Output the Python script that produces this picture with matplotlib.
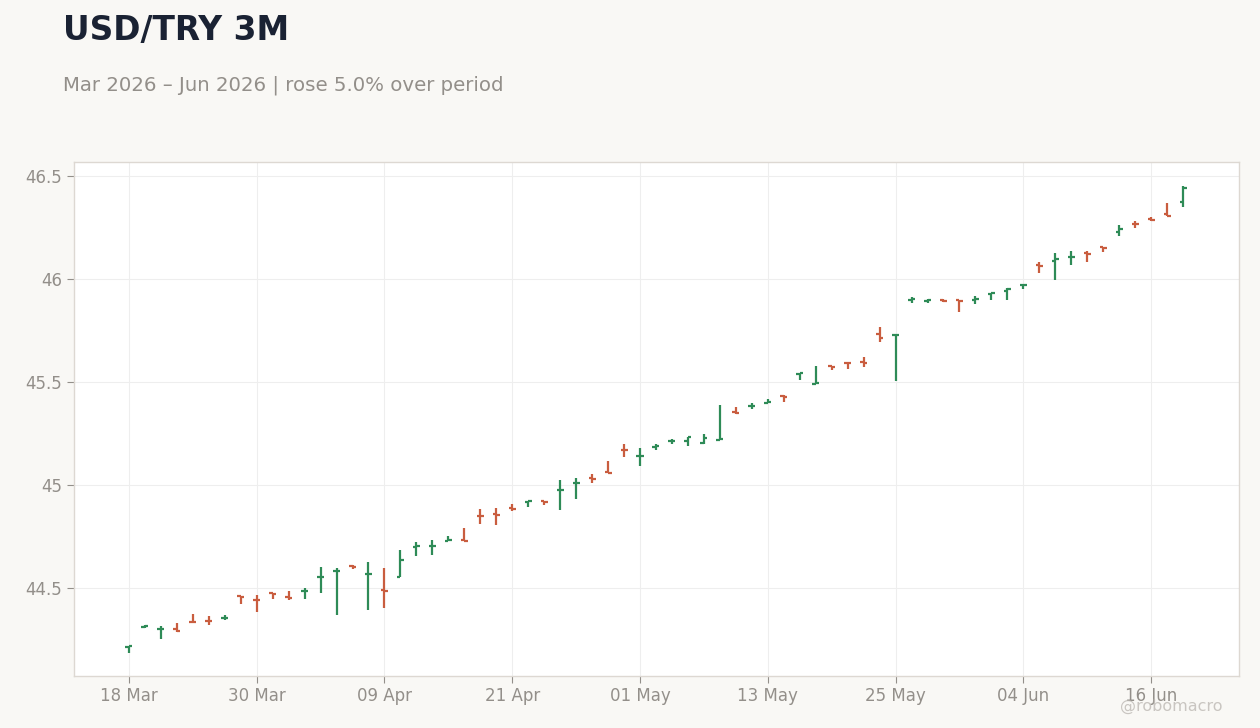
import matplotlib.pyplot as plt
import pandas as pd

# USD/TRY daily OHLC, business days from 18 Mar 2026
dates = pd.bdate_range('2026-03-18', periods=67)
opens = [44.213, 44.309, 44.300, 44.302, 44.337, 44.342, 44.355, 44.459, 44.443, 44.475,
         44.455, 44.486, 44.554, 44.583, 44.606, 44.568, 44.489, 44.552, 44.700, 44.703,
         44.729, 44.731, 44.851, 44.857, 44.890, 44.920, 44.922, 44.976, 45.010, 45.032,
         45.061, 45.172, 45.141, 45.187, 45.214, 45.215, 45.204, 45.218, 45.356, 45.382,
         45.399, 45.432, 45.538, 45.490, 45.577, 45.593, 45.595, 45.733, 45.727, 45.899,
         45.894, 45.896, 45.896, 45.899, 45.928, 45.942, 45.971, 46.069, 46.089, 46.107,
         46.124, 46.153, 46.230, 46.268, 46.289, 46.314, 46.375]
highs = [44.218, 44.319, 44.315, 44.330, 44.374, 44.364, 44.367, 44.461, 44.466, 44.476,
         44.485, 44.500, 44.603, 44.595, 44.612, 44.626, 44.597, 44.684, 44.723, 44.733,
         44.752, 44.791, 44.883, 44.888, 44.908, 44.922, 44.923, 45.024, 45.034, 45.053,
         45.117, 45.199, 45.180, 45.199, 45.223, 45.233, 45.248, 45.388, 45.377, 45.397,
         45.416, 45.435, 45.543, 45.578, 45.578, 45.597, 45.621, 45.767, 45.731, 45.911,
         45.901, 45.901, 45.897, 45.917, 45.930, 45.956, 45.973, 46.083, 46.126, 46.136,
         46.136, 46.154, 46.262, 46.282, 46.299, 46.369, 46.451]
lows = [44.186, 44.304, 44.254, 44.288, 44.332, 44.320, 44.345, 44.422, 44.383, 44.447,
        44.443, 44.447, 44.477, 44.369, 44.591, 44.393, 44.403, 44.552, 44.655, 44.660,
        44.727, 44.729, 44.811, 44.806, 44.875, 44.893, 44.904, 44.879, 44.932, 45.011,
        45.059, 45.137, 45.094, 45.171, 45.200, 45.191, 45.199, 45.218, 45.345, 45.371,
        45.398, 45.403, 45.510, 45.489, 45.558, 45.563, 45.574, 45.694, 45.505, 45.885,
        45.885, 45.887, 45.841, 45.880, 45.900, 45.900, 45.953, 46.031, 45.995, 46.068,
        46.083, 46.133, 46.210, 46.249, 46.282, 46.306, 46.351]
closes = [44.217, 44.315, 44.303, 44.293, 44.334, 44.340, 44.357, 44.457, 44.441, 44.473,
          44.453, 44.488, 44.556, 44.585, 44.604, 44.570, 44.487, 44.636, 44.702, 44.705,
          44.731, 44.730, 44.849, 44.855, 44.886, 44.922, 44.920, 44.978, 45.012, 45.030,
          45.060, 45.168, 45.143, 45.189, 45.216, 45.231, 45.230, 45.225, 45.348, 45.384,
          45.401, 45.429, 45.542, 45.493, 45.575, 45.590, 45.593, 45.715, 45.730, 45.901,
          45.896, 45.894, 45.894, 45.901, 45.930, 45.951, 45.973, 46.063, 46.096, 46.109,
          46.122, 46.151, 46.244, 46.266, 46.287, 46.307, 46.443]

green = '#2e8b57'
red = '#c95d3f'
bg = '#f9f8f5'
muted = '#938f8a'

fig = plt.figure(figsize=(12.6, 7.28), dpi=100, facecolor=bg)
ax = fig.add_axes([0.0587, 0.0714, 0.9246, 0.7061])
ax.set_facecolor('white')

x = list(range(len(dates)))
colors = [green if c >= o else red for o, c in zip(opens, closes)]
w = 0.22
ax.vlines(x, lows, highs, colors=colors, linewidth=1.6)
ax.hlines(opens, [i - w for i in x], x, colors=colors, linewidth=1.6)
ax.hlines(closes, x, [i + w for i in x], colors=colors, linewidth=1.6)

ax.set_xlim(-3.44, 69.5)
ax.set_ylim(44.073, 46.568)
ticks = x[::8]
ax.set_xticks(ticks)
ax.set_xticklabels([dates[i].strftime('%d %b') for i in ticks])
ax.set_yticks([44.5, 45, 45.5, 46, 46.5])
ax.set_yticklabels(['44.5', '45', '45.5', '46', '46.5'])
ax.tick_params(colors=muted, labelsize=12, length=5, width=0.8)
ax.tick_params(axis='x', pad=3)
ax.grid(color='#eeeeee', linewidth=0.8)
ax.set_axisbelow(True)
for s in ax.spines.values():
    s.set_color('#ddd8d2')
    s.set_linewidth(1)

fig.text(0.05, 0.945, 'USD/TRY 3M', fontsize=23.7, fontweight='bold', color='#1a2233')
fig.text(0.05, 0.876, 'Mar 2026 \u2013 Jun 2026 | rose 5.0% over period', fontsize=14.2, color=muted)
fig.text(0.97, 0.024, '@robomacro', fontsize=11.5, color='#bdb9b4', alpha=0.8, ha='right')

fig.savefig('out.png', dpi=100, facecolor=bg)
